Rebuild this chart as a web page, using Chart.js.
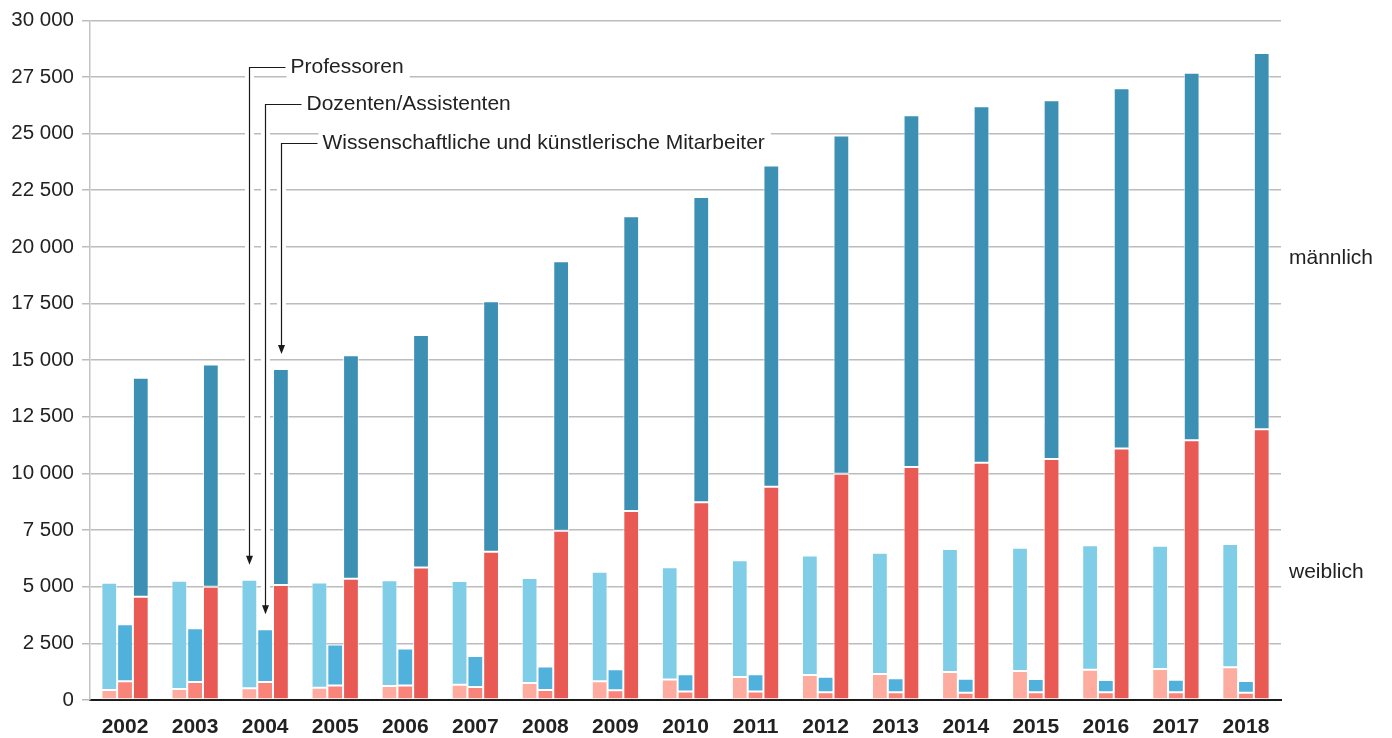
<!DOCTYPE html>
<html lang="de">
<head>
<meta charset="utf-8">
<title>Wissenschaftliches Personal nach Geschlecht</title>
<script src="https://cdn.jsdelivr.net/npm/chart.js@4.4.1/dist/chart.umd.min.js"></script>
<style>
    html, body { margin: 0; padding: 0; background: #fff; }
    #wrap { position: relative; width: 1392px; height: 738px; }
</style>
</head>
<body>
<div id="wrap"><canvas id="staffChart"></canvas></div>
<script>
// Jahre
const years = ['2002', '2003', '2004', '2005', '2006', '2007', '2008', '2009', '2010',
               '2011', '2012', '2013', '2014', '2015', '2016', '2017', '2018'];

// Professoren
const profWeiblich = [440, 485, 515, 545, 620, 670, 750, 830, 910, 1015, 1100, 1150, 1235, 1280, 1335, 1365, 1450];
const profMaennlich = [4735, 4780, 4795, 4645, 4660, 4580, 4640, 4835, 4950, 5155, 5275, 5350, 5435, 5440, 5495, 5445, 5440];

// Dozenten/Assistenten
const dozWeiblich = [825, 795, 795, 645, 645, 570, 445, 435, 370, 370, 340, 340, 325, 340, 340, 340, 325];
const dozMaennlich = [2515, 2370, 2325, 1810, 1625, 1370, 1035, 925, 765, 765, 690, 615, 615, 585, 540, 555, 515];

// Wissenschaftliche und künstlerische Mitarbeiter
const wmWeiblich = [4555, 5000, 5075, 5355, 5845, 6545, 7465, 8340, 8725, 9410, 9990, 10280, 10475, 10635, 11100, 11460, 11955];
const wmMaennlich = [9665, 9810, 9530, 9865, 10260, 11060, 11905, 13015, 13480, 14185, 14930, 15530, 15730, 15835, 15900, 16230, 16600];

// Achse
const yMax = 30000;
const yStep = 2500;

// Beschriftungen
const groupLabels = ['Professoren', 'Dozenten/Assistenten', 'Wissenschaftliche und künstlerische Mitarbeiter'];
const sexLabels = ['männlich', 'weiblich'];

const FONT = "'Liberation Sans', Arial, Helvetica, sans-serif";
Chart.defaults.font.family = FONT;
Chart.defaults.color = '#222';

function fmt(v) {
    return String(v).replace(/\B(?=(\d{3})+(?!\d))/g, ' ');
}

function barSet(label, data, stack, color) {
    return {
        label: label,
        data: data,
        stack: stack,
        backgroundColor: color,
        borderColor: 'rgba(255,255,255,0.75)',
        borderWidth: 1,
        borderSkipped: false,
        categoryPercentage: 0.675,
        barPercentage: 1.0
    };
}

// Beschriftungen mit Pfeilen + Geschlechtslabels rechts
const annotations = {
    id: 'annotations',
    afterDatasetsDraw(chart) {
        const ctx = chart.ctx;
        const idx = 2; // 2004
        const leaders = [
            { meta: 1, textY: 67, label: groupLabels[0] },
            { meta: 3, textY: 104, label: groupLabels[1] },
            { meta: 5, textY: 143, label: groupLabels[2] }
        ];
        ctx.save();
        ctx.font = '21px ' + FONT;
        ctx.textBaseline = 'middle';
        leaders.forEach(l => {
            const bar = chart.getDatasetMeta(l.meta).data[idx];
            const x = Math.round(bar.x) + 0.5;
            const tip = bar.y - 15;
            const tx = x + 41;
            const w = ctx.measureText(l.label).width;

            // weisser Hintergrund
            ctx.fillStyle = '#fff';
            ctx.fillRect(tx - 4, l.textY - 13, w + 10, 25);
            ctx.strokeStyle = '#fff';
            ctx.lineWidth = 9;
            ctx.beginPath();
            ctx.moveTo(x, l.textY);
            ctx.lineTo(x, tip);
            ctx.stroke();

            // Linie
            ctx.strokeStyle = '#1a1a1a';
            ctx.lineWidth = 1.2;
            ctx.beginPath();
            ctx.moveTo(tx - 5, l.textY + 0.5);
            ctx.lineTo(x, l.textY + 0.5);
            ctx.lineTo(x, tip - 8);
            ctx.stroke();

            // Pfeilspitze
            ctx.fillStyle = '#1a1a1a';
            ctx.beginPath();
            ctx.moveTo(x - 3.5, tip - 9);
            ctx.lineTo(x + 3.5, tip - 9);
            ctx.lineTo(x, tip);
            ctx.closePath();
            ctx.fill();

            ctx.fillStyle = '#222';
            ctx.textAlign = 'left';
            ctx.fillText(l.label, tx, l.textY);
        });

        ctx.fillStyle = '#222';
        ctx.textAlign = 'left';
        ctx.fillText(sexLabels[0], chart.chartArea.right + 8, 258);
        ctx.fillText(sexLabels[1], chart.chartArea.right + 8, 572);
        ctx.restore();
    }
};

const ctx = document.getElementById('staffChart').getContext('2d');
new Chart(ctx, {
    type: 'bar',
    data: {
        labels: years,
        datasets: [
            barSet('Professoren weiblich', profWeiblich, 'prof', '#fdac9f'),
            barSet('Professoren männlich', profMaennlich, 'prof', '#80cde7'),
            barSet('Dozenten/Assistenten weiblich', dozWeiblich, 'doz', '#f8847a'),
            barSet('Dozenten/Assistenten männlich', dozMaennlich, 'doz', '#50b2dc'),
            barSet('Mitarbeiter weiblich', wmWeiblich, 'wm', '#e85a53'),
            barSet('Mitarbeiter männlich', wmMaennlich, 'wm', '#3c90b4')
        ]
    },
    options: {
        responsive: true,
        maintainAspectRatio: false,
        animation: false,
        layout: { padding: { top: 20, right: 111, left: 0, bottom: 0 } },
        plugins: {
            legend: { display: false },
            tooltip: { enabled: false }
        },
        scales: {
            x: {
                stacked: true,
                grid: { display: false, drawTicks: false },
                border: { display: true, color: '#1a1a1a', width: 2 },
                ticks: {
                    padding: 15,
                    font: { size: 21, weight: 'bold' },
                    color: '#222'
                },
                afterFit(scale) { scale.height = 38; }
            },
            y: {
                stacked: true,
                min: 0,
                max: yMax,
                border: { display: true, color: '#c4c4c4', width: 1.5 },
                grid: {
                    color: '#bcbcbc',
                    lineWidth: 1.5,
                    tickLength: 8
                },
                ticks: {
                    stepSize: yStep,
                    padding: 8,
                    font: { size: 20.5 },
                    color: '#222',
                    callback: v => fmt(v)
                },
                afterFit(scale) { scale.width = 90; }
            }
        }
    },
    plugins: [annotations]
});
</script>
</body>
</html>
